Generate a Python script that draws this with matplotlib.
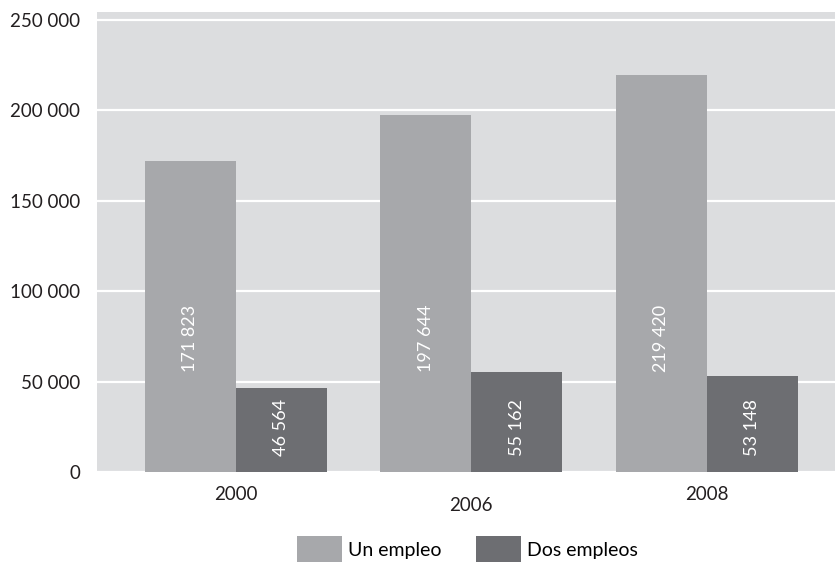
import matplotlib
matplotlib.use("Agg")
import matplotlib.pyplot as plt
import numpy as np

plt.rcParams['font.family'] = ['Lato', 'DejaVu Sans']

years = ['2000', '2006', '2008']
un_empleo = [171823, 197644, 219420]
dos_empleos = [46564, 55162, 53148]
series_names = ['Un empleo', 'Dos empleos']
y_ticks = [0, 50000, 100000, 150000, 200000, 250000]
y_tick_labels = ['0', '50 000', '100 000', '150 000', '200 000', '250 000']

light = '#a7a8ab'
dark = '#6d6e72'
bg = '#dcdddf'


def fmt(v):
    return f"{v:,}".replace(",", " ")


fig = plt.figure(figsize=(8.35, 5.62), dpi=100)
ax = fig.add_axes([97 / 835, 1 - 472 / 562, 1 - 97 / 835, 460 / 562])
ax.set_facecolor(bg)

x = np.arange(len(years))
w = 0.386
b1 = ax.bar(x - w / 2, un_empleo, w, color=light, zorder=3, label=series_names[0])
b2 = ax.bar(x + w / 2, dos_empleos, w, color=dark, zorder=3, label=series_names[1])

# value labels, rotated, anchored near the bar base
for xi, v in zip(x, un_empleo):
    ax.text(xi - w / 2, 55300, fmt(v), rotation=90, rotation_mode='anchor',
            ha='left', va='center', color='white', fontsize=13, zorder=4)
for xi, v in zip(x, dos_empleos):
    ax.text(xi + w / 2, 8900, fmt(v), rotation=90, rotation_mode='anchor',
            ha='left', va='center', color='white', fontsize=13, zorder=4)

ax.set_ylim(0, 254400)
ax.set_xlim(-0.59, 2.545)
ax.set_yticks(y_ticks)
ax.set_yticklabels(y_tick_labels)
ax.set_xticks(x)
ax.set_xticklabels(years)
ax.grid(axis='y', color='white', linewidth=1.6, zorder=1)
ax.tick_params(axis='both', length=0, labelsize=13.5, colors='#231f20')
ax.tick_params(axis='y', pad=12)
ax.tick_params(axis='x', pad=10)
ax.xaxis.get_major_ticks()[1].set_pad(18)
for s in ax.spines.values():
    s.set_visible(False)

fig.legend(handles=[b1, b2], labels=series_names, loc='upper left',
           bbox_to_anchor=(297 / 835, 1 - 536 / 562), frameon=False,
           ncol=2, fontsize=14, handlelength=2.3, handleheight=1.8,
           handletextpad=0.3, columnspacing=1.8, borderpad=0,
           borderaxespad=0)

fig.savefig('out.png', dpi=100)
